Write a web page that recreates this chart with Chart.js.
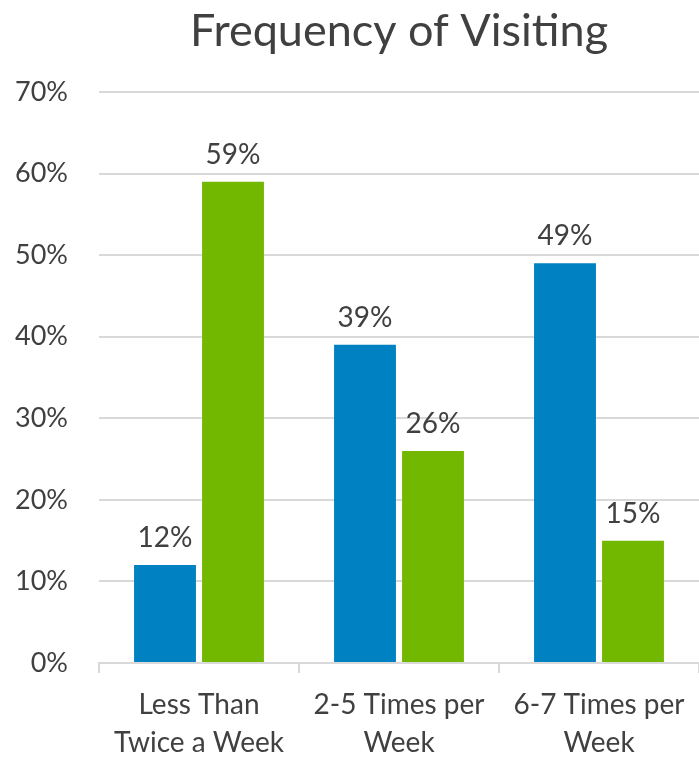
<!DOCTYPE html>
<html>
<head>
<meta charset="utf-8">
<script src="https://cdn.jsdelivr.net/npm/chart.js@4/dist/chart.umd.min.js"></script>
<style>
  html, body { margin: 0; padding: 0; background: #fff; }
  #wrap { width: 699px; height: 759px; }
</style>
</head>
<body>
<div id="wrap"><canvas id="visitChart" width="699" height="759"></canvas></div>
<script>
// Visit frequency, two groups per category (percent)
const categories = [['Less Than', 'Twice a Week'], ['2-5 Times per', 'Week'], ['6-7 Times per', 'Week']];
const seriesBlue = [12, 39, 49];
const seriesGreen = [59, 26, 15];
const yTicks = [0, 10, 20, 30, 40, 50, 60, 70];

const textColor = '#404040';
const gridColor = '#d9d9d9';
const fontFamily = 'Lato, "Open Sans", sans-serif';

// Draws the "NN%" value above each bar
const barValueLabels = {
    id: 'barValueLabels',
    afterDatasetsDraw(chart) {
        const ctx = chart.ctx;
        ctx.save();
        ctx.fillStyle = textColor;
        ctx.font = '28px ' + fontFamily;
        ctx.textAlign = 'center';
        ctx.textBaseline = 'bottom';
        chart.data.datasets.forEach((ds, i) => {
            chart.getDatasetMeta(i).data.forEach((bar, j) => {
                ctx.fillText(ds.data[j] + '%', bar.x, bar.y - 13);
            });
        });
        ctx.restore();
    }
};

new Chart(document.getElementById('visitChart'), {
    type: 'bar',
    data: {
        labels: categories,
        datasets: [
            {
                data: seriesBlue,
                backgroundColor: '#0081c1',
                categoryPercentage: 0.68,
                barPercentage: 0.91
            },
            {
                data: seriesGreen,
                backgroundColor: '#72b800',
                categoryPercentage: 0.68,
                barPercentage: 0.91
            }
        ]
    },
    options: {
        responsive: false,
        animation: false,
        layout: { padding: 0 },
        plugins: {
            legend: { display: false },
            tooltip: { enabled: false },
            title: {
                display: true,
                text: 'Frequency of Visiting',
                color: textColor,
                fullSize: false,
                font: { family: fontFamily, size: 45, weight: 'normal', lineHeight: 1.2 },
                padding: { top: 4, bottom: 34 }
            }
        },
        scales: {
            x: {
                afterFit: s => { s.height = 96; },
                grid: {
                    offset: true,
                    drawOnChartArea: false,
                    drawTicks: true,
                    tickLength: 10,
                    color: gridColor,
                    lineWidth: 2
                },
                border: { display: true, color: gridColor, width: 2 },
                ticks: {
                    color: textColor,
                    font: { family: fontFamily, size: 28, lineHeight: 1.35 },
                    padding: 13,
                    maxRotation: 0
                }
            },
            y: {
                min: 0,
                max: 70,
                afterFit: s => { s.width = 99; },
                afterBuildTicks: s => { s.ticks = yTicks.map(v => ({ value: v })); },
                grid: {
                    color: gridColor,
                    lineWidth: 2,
                    drawTicks: false
                },
                border: { display: false },
                ticks: {
                    color: textColor,
                    font: { family: fontFamily, size: 27 },
                    padding: 31,
                    callback: v => v + '%'
                }
            }
        }
    },
    plugins: [barValueLabels]
});
</script>
</body>
</html>
